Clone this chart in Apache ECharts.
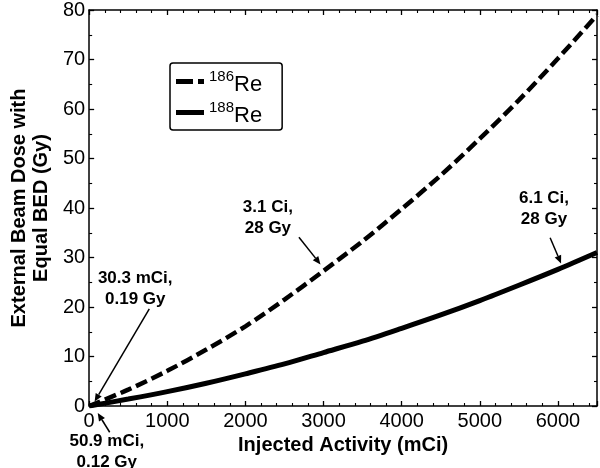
<!DOCTYPE html>
<html>
<head>
<meta charset="utf-8">
<script src="https://cdn.jsdelivr.net/npm/echarts@6/dist/echarts.min.js"></script>
<style>
html,body{margin:0;padding:0;background:#fff;}
#c{width:600px;height:468px;}
</style>
</head>
<body>
<div id="c"></div>
<script>
// ---- data ----
var activity = [0, 500, 1000, 1500, 2000, 2500, 3000, 3500, 4000, 4500, 5000, 5500, 6000, 6500];
var re186 = [0, 3.3, 7.1, 11.4, 16.1, 21.5, 27.3, 33.3, 39.8, 46.6, 54.0, 61.8, 70.2, 79.0];
var re188 = [0, 1.4, 2.9, 4.6, 6.5, 8.5, 10.8, 13.1, 15.7, 18.4, 21.3, 24.4, 27.6, 31.0];
var seriesNames = ['186Re', '188Re'];
var annoTexts = ['3.1 Ci,\n28 Gy', '6.1 Ci,\n28 Gy', '30.3 mCi,\n0.19 Gy', '50.9 mCi,\n0.12 Gy'];

var FONT = '"Liberation Sans", Arial, sans-serif';
var chart = echarts.init(document.getElementById('c'), null, {renderer: 'canvas'});

function pairs(xs, ys) { return xs.map(function (x, i) { return [x, ys[i]]; }); }

var tickCommon = {show: true, inside: true, length: 5, lineStyle: {color: '#000', width: 1.3}};
var minorX = {show: true, splitNumber: 5, length: 3, lineStyle: {color: '#000', width: 1.1}};
var minorY = {show: true, splitNumber: 2, length: 3, lineStyle: {color: '#000', width: 1.1}};
function plain(v) { return String(v); }
var legendIcons = ['path://M0,0h17v5h-17z M22,0h6v5h-6z', 'path://M0,0h28v5h-28z'];

var option = {
  backgroundColor: '#fff',
  animation: false,
  grid: {left: 79, right: 3, top: 7, bottom: 62, containLabel: false},
  xAxis: [{
    type: 'value', min: 0, max: 6500, interval: 1000,
    axisLine: {show: true, lineStyle: {color: '#000', width: 1.5}},
    axisTick: tickCommon, minorTick: minorX,
    splitLine: {show: false},
    axisLabel: {color: '#000', fontSize: 20, fontFamily: FONT, margin: 5, showMaxLabel: false, formatter: plain},
    name: 'Injected Activity (mCi)', nameLocation: 'middle', nameGap: 28,
    nameTextStyle: {color: '#000', fontSize: 20, fontWeight: 'bold', fontFamily: FONT}
  }, {
    type: 'value', min: 0, max: 6500, interval: 1000, position: 'top',
    axisLine: {show: true, onZero: false, lineStyle: {color: '#000', width: 1.5}},
    axisTick: tickCommon, minorTick: minorX,
    axisLabel: {show: false}, splitLine: {show: false}
  }],
  yAxis: [{
    type: 'value', min: 0, max: 80, interval: 10,
    axisLine: {show: true, lineStyle: {color: '#000', width: 1.5}},
    axisTick: tickCommon, minorTick: minorY,
    splitLine: {show: false},
    axisLabel: {color: '#000', fontSize: 20, fontFamily: FONT, margin: 4, formatter: plain},
    name: 'External Beam Dose with\nEqual BED (Gy)', nameLocation: 'middle', nameGap: 26,
    nameTextStyle: {color: '#000', fontSize: 20, fontWeight: 'bold', fontFamily: FONT, lineHeight: 22}
  }, {
    type: 'value', min: 0, max: 80, interval: 10, position: 'right',
    axisLine: {show: true, onZero: false, lineStyle: {color: '#000', width: 1.5}},
    axisTick: tickCommon, minorTick: minorY,
    axisLabel: {show: false}, splitLine: {show: false}
  }],
  legend: {
    left: 170, top: 63, orient: 'vertical',
    backgroundColor: '#fff',
    borderColor: '#000', borderWidth: 1.5, borderRadius: 3,
    padding: [4, 20, 3, 6], itemGap: 2,
    itemWidth: 28, itemHeight: 5,
    data: seriesNames.map(function (n, i) { return {name: n, icon: legendIcons[i], itemStyle: {color: '#000', opacity: 1}}; }),
    formatter: function (name) {
      return '{sup|' + name.slice(0, 3) + '}{b|' + name.slice(3) + '}';
    },
    textStyle: {
      color: '#000', fontFamily: FONT,
      rich: {
        sup: {fontSize: 15, fontFamily: FONT, color: '#000', verticalAlign: 'top', lineHeight: 24},
        b: {fontSize: 22, fontFamily: FONT, color: '#000', lineHeight: 24, padding: [7, 0, 0, 0]}
      }
    }
  },
  series: [{
    name: seriesNames[0], type: 'line', data: pairs(activity, re186),
    smooth: 0.3, symbol: 'none',
    lineStyle: {color: '#000', width: 4.5, type: [12, 5]},
    itemStyle: {color: '#000'}
  }, {
    name: seriesNames[1], type: 'line', data: pairs(activity, re188),
    smooth: 0.3, symbol: 'none',
    lineStyle: {color: '#000', width: 5, type: 'solid'},
    itemStyle: {color: '#000'}
  }]
};
chart.setOption(option);

// annotations in data coordinates: text centre, arrow start, arrow tip
var annoCfg = [
  {t: [2288, 38.0], a: [2685, 34.1], b: [2961, 28.6]},
  {t: [5822, 39.9], a: [5900, 34.0], b: [6040, 28.8]},
  {t: [590, 23.6],  a: [770, 19.6],  b: [70, 0.9]},
  {t: [226, -9.2],  a: [263, -5.3],  b: [110, -1.4]}
];
function px(p) { return chart.convertToPixel({xAxisIndex: 0, yAxisIndex: 0}, p); }
var g = [];
annoCfg.forEach(function (c, i) {
  var t = px(c.t), a = px(c.a), b = px(c.b);
  g.push({type: 'text', x: t[0], y: t[1], z: 100,
    style: {text: annoTexts[i], fill: '#000', font: 'bold 17px ' + FONT, align: 'center', verticalAlign: 'middle', lineHeight: 21}});
  var dx = b[0] - a[0], dy = b[1] - a[1], L = Math.sqrt(dx * dx + dy * dy);
  var ux = dx / L, uy = dy / L, hl = 8, hw = 3.5;
  var bx = b[0] - ux * hl, by = b[1] - uy * hl;
  g.push({type: 'line', z: 100, shape: {x1: a[0], y1: a[1], x2: bx, y2: by}, style: {stroke: '#000', lineWidth: 1.5}});
  g.push({type: 'polygon', z: 100, shape: {points: [[b[0], b[1]], [bx - uy * hw, by + ux * hw], [bx + uy * hw, by - ux * hw]]}, style: {fill: '#000'}});
});
chart.setOption({graphic: g});
</script>
</body>
</html>
